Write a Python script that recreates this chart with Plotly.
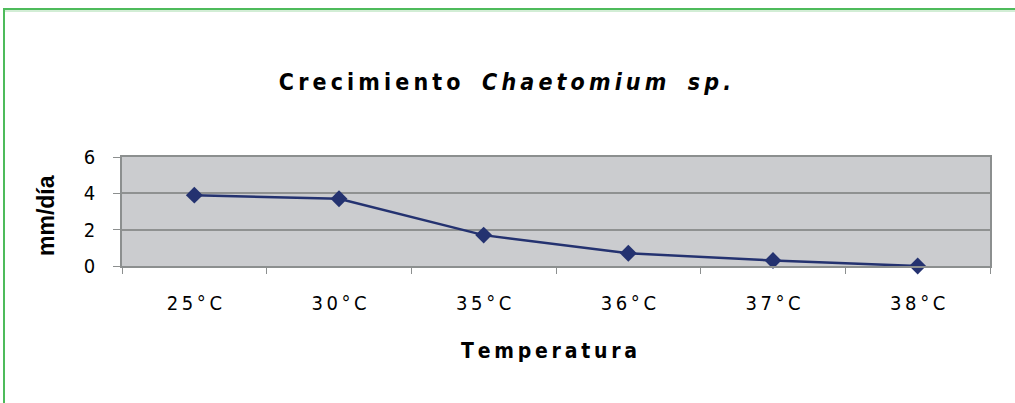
import plotly.graph_objects as go

# Growth rate of Chaetomium sp. at each incubation temperature
temperatures = ["25°C", "30°C", "35°C", "36°C", "37°C", "38°C"]
growth_mm_day = [3.9, 3.7, 1.7, 0.7, 0.3, 0.0]
y_ticks = [0, 2, 4, 6]

THIN = "\u2009"


def spaced(text, gap=THIN):
    """Spread the characters of a label apart."""
    return gap.join(text)


NARROW = "DejaVu Sans Condensed, Liberation Sans Narrow, Arial Narrow, sans-serif"
W, H = 1015, 403
M_L, M_R, M_T, M_B = 122, 25, 157, 137
PW, PH = W - M_L - M_R, H - M_T - M_B


def px_x(x):
    return (x - M_L) / PW


def px_y(y):
    return (H - M_B - y) / PH


fig = go.Figure(
    go.Scatter(
        x=temperatures,
        y=growth_mm_day,
        mode="lines+markers",
        line=dict(color="#243270", width=2.5),
        marker=dict(symbol="diamond", size=13, color="#243270"),
        cliponaxis=False,
        showlegend=False,
    )
)

title_text = (
    spaced("Crecimiento") + "   <i>" + spaced("Chaetomium") + "   " + spaced("sp.") + "</i>"
)

fig.update_layout(
    width=W,
    height=H,
    margin=dict(l=M_L, r=M_R, t=M_T, b=M_B),
    paper_bgcolor="white",
    plot_bgcolor="#cbcccf",
    title=dict(
        text=title_text,
        font=dict(family=NARROW, size=23, color="black", weight="bold"),
        x=505 / W,
        xanchor="center",
        y=1 - 82 / H,
        yanchor="middle",
    ),
    xaxis=dict(
        type="category",
        range=[-0.5, len(temperatures) - 0.5],
        tickmode="array",
        tickvals=temperatures,
        ticktext=[spaced(t) for t in temperatures],
        tickfont=dict(family=NARROW, size=20, color="black"),
        ticks="outside",
        tickson="boundaries",
        ticklen=6,
        tickcolor="#8c8f8f",
        showline=True,
        linecolor="#8c8f8f",
        linewidth=1.5,
        mirror=True,
        showgrid=False,
        ticklabelstandoff=18,
    ),
    yaxis=dict(
        range=[0, 6],
        tickvals=y_ticks,
        tickfont=dict(family=NARROW, size=20, color="black"),
        ticks="outside",
        ticklen=7,
        tickcolor="#8c8f8f",
        showline=True,
        linecolor="#8c8f8f",
        linewidth=1.5,
        mirror=True,
        gridcolor="#8f9191",
        gridwidth=1.5,
        zeroline=False,
        ticklabelstandoff=14,
    ),
    annotations=[
        dict(
            text=spaced("Temperatura"),
            xref="paper", yref="paper",
            x=px_x(549), y=px_y(351),
            xanchor="center", yanchor="middle",
            showarrow=False,
            font=dict(family=NARROW, size=21, color="black", weight="bold"),
        ),
        dict(
            text="mm/día",
            xref="paper", yref="paper",
            x=px_x(46), y=px_y(216),
            xanchor="center", yanchor="middle",
            textangle=-90,
            showarrow=False,
            font=dict(family="Liberation Sans, Arial, sans-serif", size=23, color="black", weight="bold"),
        ),
    ],
    shapes=[
        # green frame around the figure
        dict(type="line", xref="paper", yref="paper",
             x0=px_x(3), x1=px_x(1020), y0=px_y(9), y1=px_y(9),
             line=dict(color="#4dbb5b", width=2)),
        dict(type="line", xref="paper", yref="paper",
             x0=px_x(3), x1=px_x(1020), y0=px_y(11), y1=px_y(11),
             line=dict(color="#a6dcac", width=1)),
        dict(type="line", xref="paper", yref="paper",
             x0=px_x(4), x1=px_x(4), y0=px_y(8), y1=px_y(410),
             line=dict(color="#4dbb5b", width=2)),
    ],
)

fig.write_html("out.html")
